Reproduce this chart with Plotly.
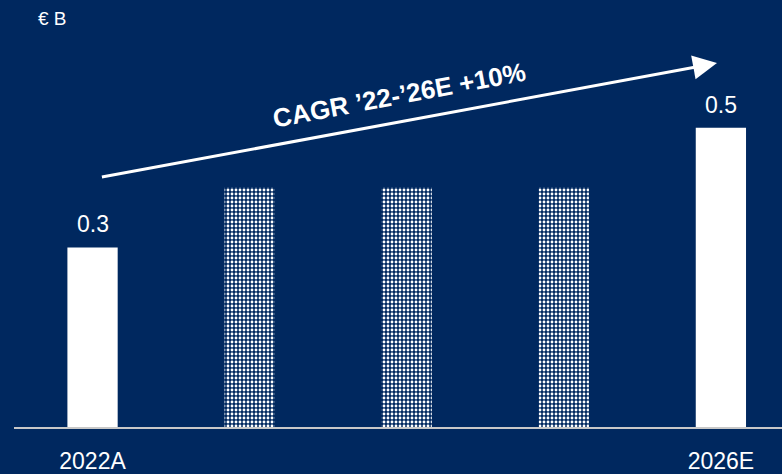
import plotly.graph_objects as go

# Revenue in € B, actual 2022 and estimate 2026 with placeholder years between
categories = ["2022A", "2023", "2024", "2025", "2026E"]
values = [0.3, 0.40, 0.40, 0.40, 0.5]
labels = ["0.3", "", "", "", "0.5"]
shown_ticks = ["2022A", "2026E"]
cagr_text = "CAGR ’22-’26E +10%"
unit_text = "€ B"

# arrow from just above the first bar to above the last bar (data units)
arrow_tail = (0.05, 0.417)
arrow_head = (3.975, 0.608)
cagr_pos = (1.955, 0.554)

NAVY = "#00285F"
WHITE = "#FFFFFF"
FONT = "Liberation Sans, Arial, sans-serif"

xs = list(range(len(categories)))
solid = [i for i, c in enumerate(categories) if c in shown_ticks]
dotted = [i for i in xs if i not in solid]

fig = go.Figure()
fig.add_trace(go.Bar(
    x=[xs[i] for i in solid], y=[values[i] for i in solid],
    width=0.32, marker=dict(color=WHITE, line=dict(width=0)),
    hoverinfo="skip", showlegend=False,
))
fig.add_trace(go.Bar(
    x=[xs[i] for i in dotted], y=[values[i] for i in dotted],
    width=0.32,
    marker=dict(color=NAVY, line=dict(width=0),
                pattern=dict(shape=".", fgcolor=WHITE, bgcolor=NAVY,
                             size=4, solidity=0.4, fillmode="replace")),
    hoverinfo="skip", showlegend=False,
))

annotations = []
for i, (v, t) in enumerate(zip(values, labels)):
    if t:
        annotations.append(dict(x=xs[i], y=v, text=t, showarrow=False,
                                yanchor="bottom", yshift=8,
                                font=dict(size=23, color=WHITE, family=FONT)))

annotations.append(dict(
    x=arrow_head[0], y=arrow_head[1], ax=arrow_tail[0], ay=arrow_tail[1],
    xref="x", yref="y", axref="x", ayref="y", text="",
    showarrow=True, arrowhead=2, arrowsize=1.6, arrowwidth=3,
    arrowcolor=WHITE, standoff=0, startstandoff=0,
))
annotations.append(dict(
    x=cagr_pos[0], y=cagr_pos[1], xref="x", yref="y", text=f"<b>{cagr_text}</b>",
    showarrow=False, textangle=-10.66,
    font=dict(size=26, color=WHITE, family=FONT),
))
annotations.append(dict(
    x=0.028, y=0.956, xref="paper", yref="paper", text=unit_text,
    showarrow=False, xanchor="left", yanchor="middle",
    font=dict(size=19, color=WHITE, family=FONT),
))

fig.update_layout(
    width=782, height=474,
    margin=dict(l=14, r=0, t=0, b=41),
    paper_bgcolor=NAVY, plot_bgcolor=NAVY,
    barmode="overlay",
    annotations=annotations,
    font=dict(family=FONT, color=WHITE),
)
fig.update_xaxes(
    range=[-0.5, 4.389],
    tickvals=[xs[categories.index(c)] for c in shown_ticks],
    ticktext=shown_ticks,
    showgrid=False, zeroline=False,
    showline=True, linecolor="#C8C8C8", linewidth=2,
    ticks="", ticklabelstandoff=12,
    tickfont=dict(size=23, color=WHITE, family=FONT),
)
fig.update_yaxes(range=[0, 0.7133], visible=False, showgrid=False)

fig.write_html("out.html")
